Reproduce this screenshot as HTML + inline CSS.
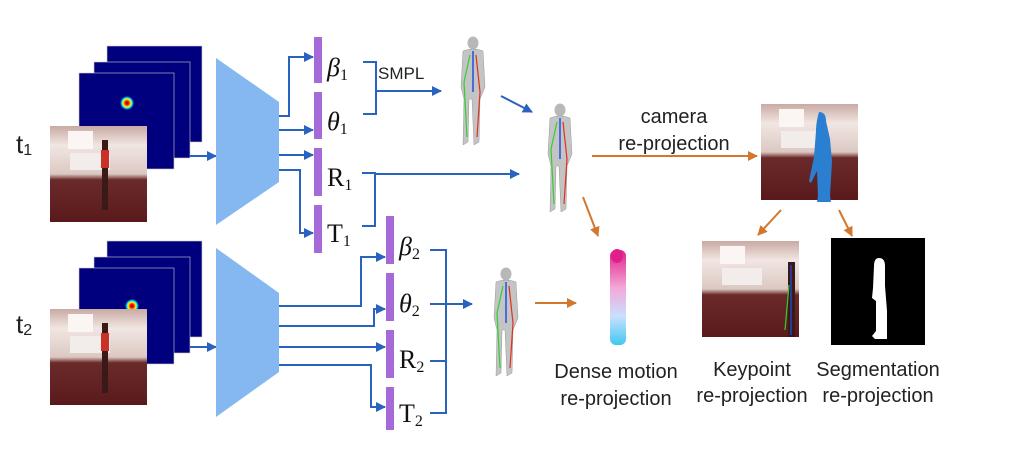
<!DOCTYPE html>
<html><head><meta charset="utf-8"><style>
html,body{margin:0;padding:0;background:#fff;}
svg{display:block;}
.s{font-family:"Liberation Sans",sans-serif;fill:#222;}
.m{font-family:"Liberation Serif",serif;fill:#111;}
</style></head><body>
<svg width="1024" height="468" viewBox="0 0 1024 468" xmlns="http://www.w3.org/2000/svg">
<defs>
<marker id="ab" viewBox="0 0 10 10" refX="9" refY="5" markerWidth="5" markerHeight="5" orient="auto"><path d="M0,0L10,5L0,10z" fill="#2a62c0"/></marker>
<marker id="ao" viewBox="0 0 10 10" refX="9" refY="5" markerWidth="5" markerHeight="5" orient="auto"><path d="M0,0L10,5L0,10z" fill="#d2782e"/></marker>
<radialGradient id="blob"><stop offset="0" stop-color="#a00000"/><stop offset="0.3" stop-color="#ff2000"/><stop offset="0.55" stop-color="#ffff00"/><stop offset="0.75" stop-color="#00e0ff"/><stop offset="1" stop-color="#00007f"/></radialGradient>
<linearGradient id="room" x1="0" y1="0" x2="0" y2="1"><stop offset="0" stop-color="#c9aaa4"/><stop offset="0.2" stop-color="#f1e6e2"/><stop offset="0.5" stop-color="#dcc8c2"/><stop offset="0.56" stop-color="#6b2a2a"/><stop offset="1" stop-color="#5a1a1c"/></linearGradient>
<linearGradient id="dense" x1="0" y1="0" x2="0" y2="1"><stop offset="0" stop-color="#e0208a"/><stop offset="0.4" stop-color="#f4a8d8"/><stop offset="0.7" stop-color="#c8e0ff"/><stop offset="1" stop-color="#40c8f0"/></linearGradient>
<g id="room1">
<rect width="97" height="96" fill="url(#room)"/>
<rect x="20" y="27" width="40" height="17" fill="#f2ecea"/>
<rect x="18" y="5" width="25" height="18" fill="#fbf6f4"/>
</g>
<g id="heat">
<rect x="57" y="0" width="95" height="96" fill="#00007f" stroke="#ccc" stroke-width="0.6"/>
<rect x="44" y="16" width="96" height="96" fill="#00007f" stroke="#ccc" stroke-width="0.6"/>
<rect x="29" y="27" width="95" height="96" fill="#00007f" stroke="#ccc" stroke-width="0.6"/>
</g>
<g id="body">
<ellipse cx="0" cy="6" rx="5.5" ry="6.5" fill="#b8b8b8"/>
<path d="M-10,14 Q0,10 10,14 L12,50 L7,62 L6,105 L1,108 L-1,62 L-4,62 L-5,105 L-10,108 L-9,62 L-12,50 Z" fill="#c4c4c4" stroke="#999" stroke-width="0.5"/>
<path d="M0,14 L0,55" stroke="#2050e0" stroke-width="1.5"/>
<path d="M3,18 L7,55 L4,100" stroke="#e03020" stroke-width="1.2" fill="none"/>
<path d="M-3,18 L-9,45 L-6,100" stroke="#30d030" stroke-width="1.2" fill="none"/>
</g>
</defs>

<use href="#heat" x="50" y="46"/>
<circle cx="127" cy="103" r="7" fill="url(#blob)"/>
<use href="#room1" x="50" y="126"/>
<rect x="102" y="140" width="6" height="70" fill="#3a1a18"/><rect x="101" y="150" width="8" height="18" fill="#c83228"/>
<text class="s" x="16" y="153" font-size="26">t<tspan font-size="16" dy="2">1</tspan></text>
<line x1="190" y1="156" x2="216" y2="156" stroke="#2a62c0" stroke-width="2" marker-end="url(#ab)"/>
<polygon points="216,58 279,102 279,182 216,225" fill="#85b8f0"/>

<use href="#heat" x="50" y="241"/>
<circle cx="132" cy="306" r="7" fill="url(#blob)"/>
<use href="#room1" x="50" y="309"/>
<rect x="102" y="323" width="6" height="70" fill="#3a1a18"/><rect x="101" y="333" width="8" height="18" fill="#c83228"/>
<text class="s" x="16" y="333" font-size="26">t<tspan font-size="16" dy="2">2</tspan></text>
<line x1="190" y1="347" x2="216" y2="347" stroke="#2a62c0" stroke-width="2" marker-end="url(#ab)"/>
<polygon points="216,248 279,293 279,372 216,417" fill="#85b8f0"/>

<g fill="#a56ad8">
<rect x="314" y="37" width="8" height="46"/><rect x="314" y="92" width="8" height="47"/>
<rect x="314" y="148" width="8" height="48"/><rect x="314" y="205" width="8" height="48"/>
<rect x="386" y="216" width="8" height="48"/><rect x="386" y="273" width="8" height="48"/>
<rect x="386" y="330" width="8" height="48"/><rect x="386" y="387" width="8" height="43"/>
</g>
<g fill="none" stroke="#2a62c0" stroke-width="2">
<path d="M279,116 H289 V57 H313" marker-end="url(#ab)"/>
<path d="M279,130 H313" marker-end="url(#ab)"/>
<path d="M279,155 H313" marker-end="url(#ab)"/>
<path d="M279,170 H300 V233 H313" marker-end="url(#ab)"/>
<path d="M363,62 H376 V114 H363"/>
<path d="M376,91 H441" marker-end="url(#ab)"/>
<path d="M362,173 H375 V226 H362"/>
<path d="M375,174 H519" marker-end="url(#ab)"/>
<path d="M279,306 H361 V257 H385" marker-end="url(#ab)"/>
<path d="M279,326 H374 V309 H385" marker-end="url(#ab)"/>
<path d="M279,347 H385" marker-end="url(#ab)"/>
<path d="M279,365 H371 V407 H385" marker-end="url(#ab)"/>
<path d="M430,250 H446 V413 H430 M430,304 H446 M430,361 H446"/>
<path d="M446,304 H472" marker-end="url(#ab)"/>
<path d="M501,96 L532,112" marker-end="url(#ab)"/>
</g>
<g class="m" font-size="26">
<text x="327" y="76" font-style="italic">β<tspan font-size="16" font-style="normal" dy="4">1</tspan></text>
<text x="327" y="130" font-style="italic">θ<tspan font-size="16" font-style="normal" dy="4">1</tspan></text>
<text x="327" y="186">R<tspan font-size="16" dy="4">1</tspan></text>
<text x="327" y="242">T<tspan font-size="16" dy="4">1</tspan></text>
<text x="399" y="255" font-style="italic">β<tspan font-size="16" font-style="normal" dy="4">2</tspan></text>
<text x="399" y="312" font-style="italic">θ<tspan font-size="16" font-style="normal" dy="4">2</tspan></text>
<text x="399" y="368">R<tspan font-size="16" dy="4">2</tspan></text>
<text x="399" y="422">T<tspan font-size="16" dy="4">2</tspan></text>
</g>
<text class="s" x="378" y="79" font-size="17">SMPL</text>

<use href="#body" x="473" y="37"/>
<use href="#body" x="560" y="104"/>
<use href="#body" x="506" y="268"/>
<rect x="610" y="250" width="16" height="95" rx="6" fill="url(#dense)"/>
<ellipse cx="617" cy="256" rx="6" ry="7" fill="#e0208a"/>

<g stroke="#d2782e" stroke-width="2" fill="none">
<path d="M592,156 H757" marker-end="url(#ao)"/>
<path d="M583,197 L598,236" marker-end="url(#ao)"/>
<path d="M535,303 H576" marker-end="url(#ao)"/>
<path d="M781,210 L758,235" marker-end="url(#ao)"/>
<path d="M839,210 L852,236" marker-end="url(#ao)"/>
</g>
<text class="s" x="674" y="123" font-size="20" text-anchor="middle">camera</text>
<text class="s" x="674" y="150" font-size="20" text-anchor="middle">re-projection</text>

<use href="#room1" x="761" y="104"/>
<path d="M819,112 q7,0 7,9 l4,18 l2,22 l-2,35 l1,6 h-14 l1,-6 l-1,-25 l-6,12 l-2,-2 l5,-24 l2,-26 q0,-9 3,-19z" fill="#2a7fd0"/>
<use href="#room1" x="702" y="241"/>
<rect x="788" y="262" width="7" height="75" fill="#3a1a18"/>
<path d="M791,265 V335" stroke="#2050e0" stroke-width="1.2"/>
<path d="M789,285 L785,330" stroke="#30d030" stroke-width="1.2"/>
<rect x="831" y="238" width="94" height="107" fill="#000"/>
<path d="M879,258 q6,0 6,8 v20 l2,25 v28 h-12 l-3,-3 l4,-5 v-30 l-4,-3 l1,-10 l1,-22 q0,-8 5,-8z" fill="#fff"/>

<g class="s" font-size="20" text-anchor="middle">
<text x="616" y="378">Dense motion</text>
<text x="616" y="405">re-projection</text>
<text x="752" y="376">Keypoint</text>
<text x="752" y="402">re-projection</text>
<text x="878" y="376">Segmentation</text>
<text x="878" y="402">re-projection</text>
</g>
</svg>
</body></html>
